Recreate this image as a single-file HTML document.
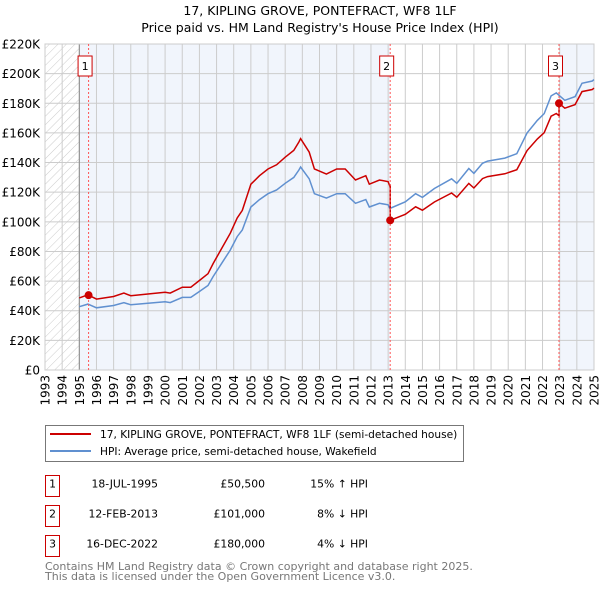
<!DOCTYPE html>
<html><head><meta charset="utf-8"><style>
body{margin:0;background:#fff;font-family:"DejaVu Sans","Liberation Sans",sans-serif;}
svg text{font-family:"DejaVu Sans","Liberation Sans",sans-serif;}
</style></head><body>
<svg id="c" width="600" height="590" xmlns="http://www.w3.org/2000/svg">
<defs><pattern id="hatch" width="6" height="6" patternUnits="userSpaceOnUse" patternTransform="rotate(45)"><line x1="0" y1="0" x2="0" y2="6" stroke="#ccc" stroke-width="1"/></pattern></defs>
<text x="320" y="15" text-anchor="middle" font-size="12.5">17, KIPLING GROVE, PONTEFRACT, WF8 1LF</text>
<text x="320" y="32" text-anchor="middle" font-size="12.5">Price paid vs. HM Land Registry's House Price Index (HPI)</text>
<g id="plot"></g>
<g>
<rect x="45.5" y="425.5" width="418" height="36" fill="#fff" stroke="#777"/>
<line x1="50" y1="434" x2="91" y2="434" stroke="#cc0000" stroke-width="2"/>
<text x="100" y="438" font-size="10.6">17, KIPLING GROVE, PONTEFRACT, WF8 1LF (semi-detached house)</text>
<line x1="50" y1="451" x2="91" y2="451" stroke="#6090d0" stroke-width="2"/>
<text x="100" y="455" font-size="10.6">HPI: Average price, semi-detached house, Wakefield</text>
</g>
<g id="table" font-size="10.8"></g>
<text x="45" y="570" font-size="11" fill="#777">Contains HM Land Registry data © Crown copyright and database right 2025.</text>
<text x="45" y="580" font-size="11" fill="#777">This data is licensed under the Open Government Licence v3.0.</text>
</svg>
<script>
const hpiYears=[1995.0,1995.5,1996.0,1997.0,1997.6,1998.0,1999.0,2000.0,2000.3,2001.0,2001.5,2002.0,2002.5,2002.8,2003.3,2003.8,2004.2,2004.5,2005.0,2005.5,2006.0,2006.5,2007.0,2007.5,2007.8,2007.9,2008.4,2008.7,2009.4,2010.0,2010.5,2011.1,2011.7,2011.9,2012.5,2013.0,2013.1,2014.0,2014.6,2015.0,2015.7,2016.7,2017.0,2017.7,2018.0,2018.5,2018.8,2019.8,2020.5,2021.1,2021.7,2022.1,2022.5,2022.8,2023.3,2023.9,2024.3,2024.9,2025.0];
const hpiValues=[42.7,44.5,42,43.5,45.5,44,45,46,45.5,49,49,53,57,63,72,81,90,94.5,110,115,119,121.5,126,130,135,137,129,119,116,119,119,112.5,115,110,112.5,111.5,109,113.5,119,116.5,122.5,129,126,136,132.7,139.5,141,143,146,160,168.5,173,185,187,182,184.5,193.5,195,196];
const saleDates=[1995.54,2013.12,2022.96];
const salePrices=[50500,101000,180000];
const saleLabels=["1","2","3"];
const saleDateText=["18-JUL-1995","12-FEB-2013","16-DEC-2022"];
const salePriceText=["£50,500","£101,000","£180,000"];
const saleHpiText=["15% \u2191 HPI","8% \u2193 HPI","4% \u2193 HPI"];
const yTicks=[0,20000,40000,60000,80000,100000,120000,140000,160000,180000,200000,220000];
const yTickLabels=["£0","£20K","£40K","£60K","£80K","£100K","£120K","£140K","£160K","£180K","£200K","£220K"];
const xTicks=[1993,1994,1995,1996,1997,1998,1999,2000,2001,2002,2003,2004,2005,2006,2007,2008,2009,2010,2011,2012,2013,2014,2015,2016,2017,2018,2019,2020,2021,2022,2023,2024,2025];

const X0=45,X1=594,Y0=370,Y1=44;
const xs=t=>X0+(t-1993)/(2025-1993)*(X1-X0);
const ys=v=>Y0-v/220000*(Y0-Y1);
const NS="http://www.w3.org/2000/svg";
const plot=document.getElementById('plot');
function mk(tag,attrs,parent){const e=document.createElementNS(NS,tag);for(const k in attrs)e.setAttribute(k,attrs[k]);(parent||plot).appendChild(e);return e;}
function hpiAt(t){for(let i=0;i<hpiYears.length-1;i++){if(t>=hpiYears[i]&&t<=hpiYears[i+1]){const f=(t-hpiYears[i])/(hpiYears[i+1]-hpiYears[i]);return (hpiValues[i]+f*(hpiValues[i+1]-hpiValues[i]))*1000;}}return hpiValues[hpiValues.length-1]*1000;}

let r=mk('rect',{x:X0,y:Y1,width:X1-X0,height:Y0-Y1,fill:'#fff'});


r=mk('rect',{x:X0,y:Y1,width:xs(1995)-X0,height:Y0-Y1,fill:'url(#hatch)'});


r=mk('rect',{x:xs(1995),y:Y1,width:xs(saleDates[1])-xs(1995),height:Y0-Y1,fill:'#f1f5fc'});


r=mk('rect',{x:xs(saleDates[2]),y:Y1,width:X1-xs(saleDates[2]),height:Y0-Y1,fill:'#f1f5fc'});


yTicks.forEach((v,i)=>{
 const l=mk('line',{x1:X0,x2:X1,y1:ys(v),y2:ys(v),stroke:'#ccc','stroke-width':1});
 
 
 const t=mk('text',{x:40,y:ys(v)+4.5,'text-anchor':'end','font-size':12});
 t.textContent=yTickLabels[i];
 
 
});
xTicks.forEach(y=>{
 const l=mk('line',{x1:xs(y),x2:xs(y),y1:Y1,y2:Y0,stroke:'#ccc','stroke-width':1});
 
 
 const t=mk('text',{x:0,y:0,'text-anchor':'end','font-size':12,transform:`translate(${xs(y)+4.5},375) rotate(-90)`});
 t.textContent=y;
 
 
});
let ln=mk('line',{x1:xs(1995),x2:xs(1995),y1:Y1,y2:Y0,stroke:'#888'});


r=mk('rect',{x:X0,y:Y1,width:X1-X0,height:Y0-Y1,fill:'none',stroke:'#ccc'});


let d=hpiYears.map((t,i)=>(i?'L':'M')+xs(t).toFixed(1)+','+ys(hpiValues[i]*1000).toFixed(1)).join('');
let p=mk('path',{d:d,fill:'none',stroke:'#6090d0','stroke-width':1.5});


function ratioAt(t){let k=0;for(let i=0;i<saleDates.length;i++)if(t>=saleDates[i])k=i;return salePrices[k]/hpiAt(saleDates[k]);}
const pts=[];
const times=hpiYears.concat(saleDates).sort((a,b)=>a-b);
times.forEach(t=>{
 const si=saleDates.indexOf(t);
 if(si>0){pts.push([t,hpiAt(t)*salePrices[si-1]/hpiAt(saleDates[si-1])]);}
 pts.push([t,hpiAt(t)*ratioAt(t)]);
});
d=pts.map((q,i)=>(i?'L':'M')+xs(q[0]).toFixed(1)+','+ys(q[1]).toFixed(1)).join('');
p=mk('path',{d:d,fill:'none',stroke:'#cc0000','stroke-width':1.5});


saleDates.forEach((t,i)=>{
 const l=mk('line',{x1:xs(t),x2:xs(t),y1:Y1,y2:Y0,stroke:'#ff5555','stroke-dasharray':'2,2','stroke-width':1});
 
 
 const c=mk('circle',{cx:xs(t),cy:ys(salePrices[i]),r:4,fill:'#cc0000'});
 
 
 const bx=xs(t)-3.5;
 const b=mk('rect',{x:bx-7,y:56,width:14,height:20,fill:'#fff',stroke:'#cc0000'});
 
 
 const tx=mk('text',{x:bx,y:70,'text-anchor':'middle','font-size':11});
 tx.textContent=saleLabels[i];
 
 
});
const tbl=document.getElementById('table');
saleDates.forEach((t,i)=>{
 const top=475.5+i*30;
 const b=mk('rect',{x:45.5,y:top,width:14,height:21,fill:'#fff',stroke:'#cc0000'},tbl);
 
 
 const cols=[[52.5,'middle',saleLabels[i],'table-index'],[158,'end',saleDateText[i],'table-date'],[265,'end',salePriceText[i],'table-price'],[368,'end',saleHpiText[i],'table-hpi-diff']];
 cols.forEach(c=>{
  const e=mk('text',{x:c[0],y:top+12,'text-anchor':c[1]},tbl);
  e.textContent=c[2];
  
  
 });
});
</script>
</body></html>
